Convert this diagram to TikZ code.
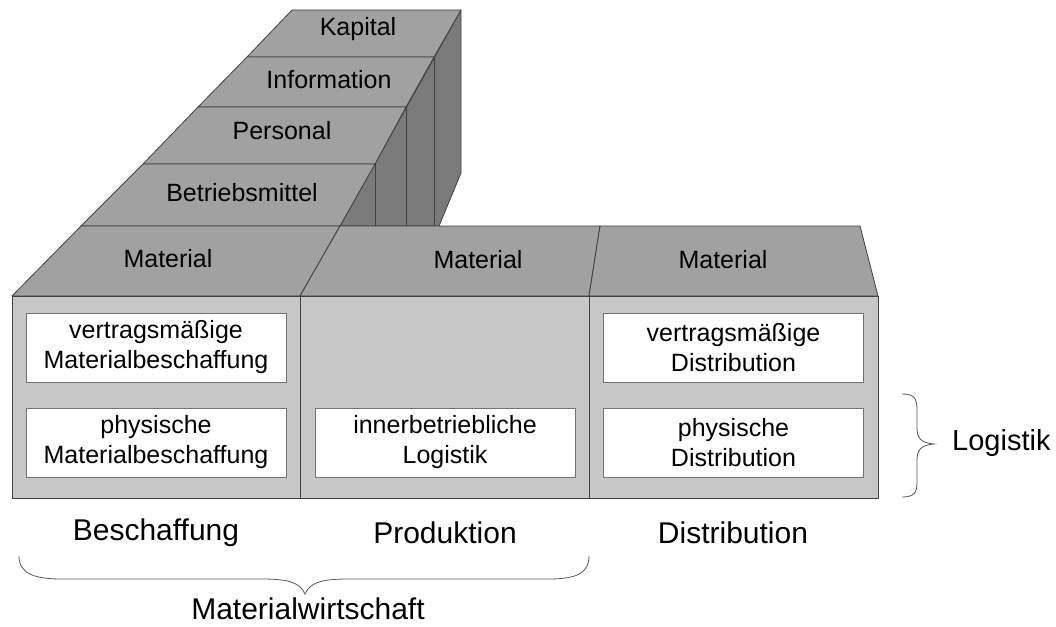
\documentclass[tikz,border=0pt]{standalone}
\usepackage{fontspec}
\setmainfont{Liberation Sans}
\begin{document}
\begin{tikzpicture}[x=1pt,y=-1pt,
  edge/.style={draw=black!75,line width=0.8pt,line join=round},
  topface/.style={edge,fill=black!37},
  sideface/.style={edge,fill=black!52},
  frontface/.style={edge,fill=black!22},
  slablabel/.style={font=\fontsize{25}{28}\selectfont,inner sep=0pt},
  itembox/.style={draw=black!55,line width=0.8pt,fill=white,minimum width=260pt,minimum height=69pt,
    inner sep=0pt,align=center,font=\fontsize{25}{30}\selectfont},
  arealabel/.style={font=\fontsize{30}{34}\selectfont,inner sep=0pt},
  bracestyle/.style={draw=black!65,line width=0.8pt}]
\useasboundingbox (0,0) rectangle (1056,626);

% dark side faces of the stacked layers
\path[sideface] (461,10) -- (461,173) -- (439,226) -- (340,226) -- cycle;
\draw[edge] (434,57) -- (434,226);
\draw[edge] (406,107) -- (406,226);
\draw[edge] (375,164) -- (375,226);

% top faces of the stacked layers
\path[topface] (292,10) -- (461,10) -- (434,57) -- (247,57) -- cycle;
\path[topface] (247,57) -- (434,57) -- (406,107) -- (198,107) -- cycle;
\path[topface] (198,107) -- (406,107) -- (375,164) -- (143,164) -- cycle;
\path[topface] (143,164) -- (375,164) -- (340,226) -- (81,226) -- cycle;
\path[topface] (81,226) -- (340,226) -- (300,296) -- (12,296) -- cycle;
\path[topface] (340,226) -- (600,226) -- (589,296) -- (300,296) -- cycle;
\path[topface] (600,226) -- (860,226) -- (878,296) -- (589,296) -- cycle;

\node[slablabel] (kap) at (358,29) {Kapital};
\node[slablabel] (inf) at (329,80) {Information};
\node[slablabel] (pers) at (282,131) {Personal};
\node[slablabel] (bm) at (242,193) {Betriebsmittel};
\node[slablabel] (mat1) at (168,259) {Material};
\node[slablabel] (mat2) at (478,260) {Material};
\node[slablabel] (mat3) at (723,260) {Material};

% front faces
\path[frontface] (12,296) rectangle (300,498);
\path[frontface] (300,296) rectangle (589,498);
\path[frontface] (589,296) rectangle (878,498);

% task boxes
\node[itembox] (vmb) at (156,347.5) {vertragsmäßige\\Materialbeschaffung};
\node[itembox] (pmb) at (156,442.5) {physische\\Materialbeschaffung};
\node[itembox] (ibl) at (445,442.5) {innerbetriebliche\\Logistik};
\node[itembox] (vd) at (733.5,347.5) {vertragsmäßige\\Distribution};
\node[itembox] (pd) at (733.5,442.5) {physische\\Distribution};

% area labels
\node[arealabel] (besch) at (156,533) {Beschaffung};
\node[arealabel] (prod) at (445,533) {Produktion};
\node[arealabel] (dist) at (733,533) {Distribution};
\node[arealabel] (mw) at (308,609) {Materialwirtschaft};
\node[font=\fontsize{29}{33}\selectfont,inner sep=0pt,anchor=west] (log) at (952,443) {Logistik};

% braces
\coordinate (bl) at (19,556);
\coordinate (br) at (589,556);
\coordinate (btip) at (305,594);
\draw[bracestyle] (bl) .. controls (19,574) and (35,579) .. (62,579) -- (262,579)
  .. controls (290,579) and (300,583) .. (btip)
  .. controls (310,583) and (320,579) .. (348,579) -- (548,579)
  .. controls (575,579) and (589,574) .. (br);

\coordinate (lt) at (902,394);
\coordinate (lb) at (902,497);
\coordinate (ltip) at (934,444);
\draw[bracestyle] (lt) .. controls (914,394) and (917,398) .. (917,410) -- (917,428)
  .. controls (917,438) and (921,443) .. (ltip)
  .. controls (921,445) and (917,450) .. (917,460) -- (917,482)
  .. controls (917,493) and (914,497) .. (lb);
\end{tikzpicture}
\end{document}
